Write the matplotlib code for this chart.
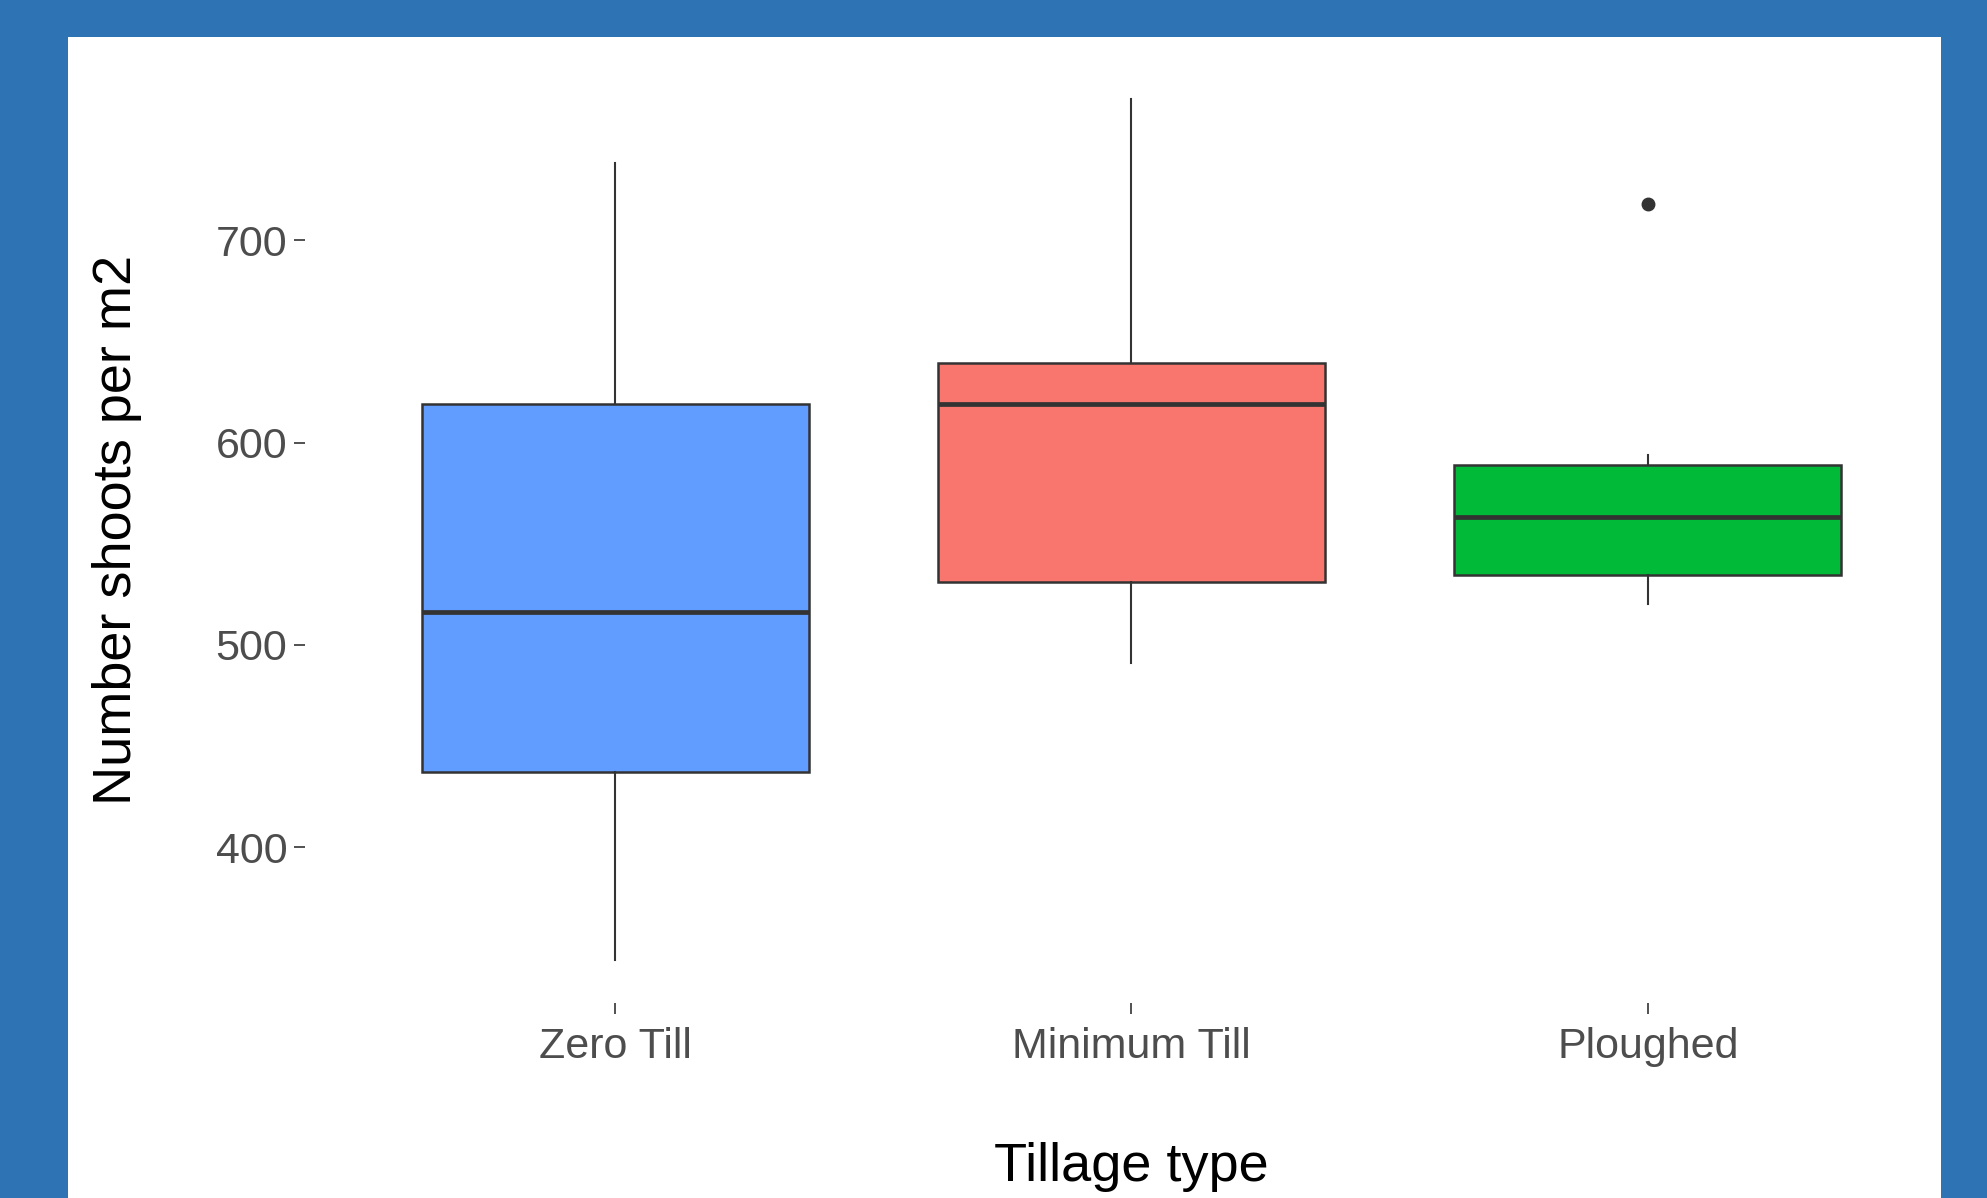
import matplotlib
matplotlib.use('Agg')
import matplotlib.pyplot as plt
from matplotlib.patches import Rectangle

plt.rcParams['font.family'] = ['Liberation Sans', 'DejaVu Sans']

# 数据
tillage = ['Zero Till', 'Minimum Till', 'Ploughed']
box_colors = ['#619CFF', '#F8766D', '#00BA38']
whisker_low = [344, 491, 520]
q1 = [437, 531, 534.5]
median = [516, 619, 563]
q3 = [619, 639.5, 589]
whisker_high = [738, 770, 594]
outliers = [[], [], [718]]
yticks = [400, 500, 600, 700]

fig = plt.figure(figsize=(19.87, 11.98), dpi=100)
fig.patch.set_facecolor('#2E74B5')
# 白色画布
fig.add_artist(Rectangle((0.0344, 0), 0.9425, 0.9694, transform=fig.transFigure,
                         facecolor='white', edgecolor='none', zorder=-1))

ax = fig.add_axes([0.1537, 0.1624, 0.8315, 0.7912])
ax.set_facecolor('none')

stats = []
for i in range(len(tillage)):
    stats.append({'label': tillage[i], 'med': median[i], 'q1': q1[i], 'q3': q3[i],
                  'whislo': whisker_low[i], 'whishi': whisker_high[i],
                  'fliers': outliers[i]})

positions = list(range(1, len(tillage) + 1))
bp = ax.bxp(stats, positions=positions, widths=0.75, patch_artist=True, showcaps=False,
            boxprops=dict(edgecolor='#333333', linewidth=1.8),
            medianprops=dict(color='#333333', linewidth=3.4),
            whiskerprops=dict(color='#333333', linewidth=1.5),
            flierprops=dict(marker='o', markerfacecolor='#333333',
                            markeredgecolor='#333333', markersize=9))
for patch, c in zip(bp['boxes'], box_colors):
    patch.set_facecolor(c)

# ggplot 风格的坐标范围
all_vals = whisker_low + whisker_high + [v for o in outliers for v in o]
lo, hi = min(all_vals), max(all_vals)
pad = (hi - lo) * 0.05
ax.set_ylim(lo - pad, hi + pad)
ax.set_xlim(0.4, len(tillage) + 0.6)

ax.set_yticks(yticks)
ax.set_xticks(positions)
ax.set_xticklabels(tillage)
for s in ax.spines.values():
    s.set_visible(False)
ax.tick_params(length=8, width=1.2, color='#333333', labelcolor='#4D4D4D',
               labelsize=31)
ax.tick_params(axis='x', pad=9)
ax.tick_params(axis='y', pad=5)

ax.set_xlabel('Tillage type', fontsize=39, color='black', va='center')
ax.xaxis.set_label_coords(0.5, -0.173)
ax.set_ylabel('Number shoots per m2', fontsize=39, color='black', va='center')
ax.yaxis.set_label_coords(-0.1143, 0.5)

fig.savefig('out.png', dpi=100)
